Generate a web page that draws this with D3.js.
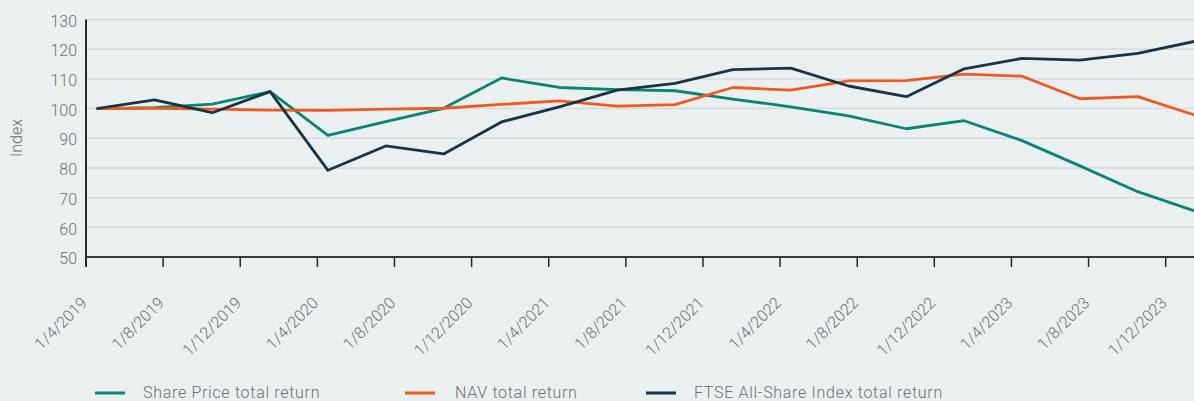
<!DOCTYPE html>
<html>
<head>
<meta charset="utf-8">
<script src="https://cdn.jsdelivr.net/npm/d3@7"></script>
<style>
  html, body { margin: 0; padding: 0; background: #eaf0f0; }
  svg { display: block; }
</style>
</head>
<body>
<div id="chart"></div>
<script>
// Quarterly observations (Apr 2019 .. Jan 2024), index rebased to 100
const quarters = ["2019-04", "2019-07", "2019-10", "2020-01", "2020-04", "2020-07", "2020-10",
  "2021-01", "2021-04", "2021-07", "2021-10", "2022-01", "2022-04", "2022-07", "2022-10",
  "2023-01", "2023-04", "2023-07", "2023-10", "2024-01"];
const sharePrice = [100, 100.3, 101.5, 105.7, 91.0, 95.6, 100.1, 110.3, 107.1, 106.4, 106.0,
  103.2, 100.6, 97.5, 93.2, 95.9, 89.2, 80.7, 72.0, 65.4];
const navReturn = [100, 100.1, 99.8, 99.5, 99.4, 99.8, 100.1, 101.4, 102.6, 100.8, 101.3,
  107.1, 106.2, 109.3, 109.4, 111.6, 110.9, 103.3, 104.0, 97.7];
const ftseReturn = [100, 102.9, 98.6, 105.7, 79.2, 87.4, 84.7, 95.5, 100.6, 106.2, 108.5,
  113.1, 113.6, 107.6, 104.0, 113.4, 116.9, 116.3, 118.6, 122.7];
const tickLabels = ["1/4/2019", "1/8/2019", "1/12/2019", "1/4/2020", "1/8/2020", "1/12/2020",
  "1/4/2021", "1/8/2021", "1/12/2021", "1/4/2022", "1/8/2022", "1/12/2022", "1/4/2023",
  "1/8/2023", "1/12/2023"];
const yTicks = [50, 60, 70, 80, 90, 100, 110, 120, 130];

const seriesNames = ["Share Price total return", "NAV total return", "FTSE All-Share Index total return"];
const seriesColors = ["#0a8574", "#f05a1e", "#1a3447"];

const width = 1194, height = 401;
const font = "Roboto, 'Liberation Sans', Arial, sans-serif";
const textColor = "#6f7072";

const svg = d3.select("#chart").append("svg")
  .attr("width", width)
  .attr("height", height)
  .style("background", "#eaf0f0");

// months since April 2019 -> pixels (date axis, major unit 4 months)
const monthW = 19.28;
const x = d3.scaleLinear().domain([0, 60]).range([86, 86 + 60 * monthW]);
const y = d3.scaleLinear().domain([50, 130]).range([257, 19.5]);

const monthIndex = s => {
  const [yy, mm] = s.split("-").map(Number);
  return (yy - 2019) * 12 + (mm - 4);
};
// each point sits inside its month slot
const px = s => x(monthIndex(s) + 0.55);

// gridlines
svg.append("g")
  .selectAll("line")
  .data(yTicks.filter(d => d > 50))
  .join("line")
  .attr("x1", x(0))
  .attr("x2", width)
  .attr("y1", d => y(d))
  .attr("y2", d => y(d))
  .attr("stroke", "#d6dadc")
  .attr("stroke-width", 1.5);

// y tick labels
svg.append("g")
  .selectAll("text")
  .data(yTicks)
  .join("text")
  .attr("x", 77)
  .attr("y", d => y(d))
  .attr("dy", "0.45em")
  .attr("text-anchor", "end")
  .attr("font-family", font)
  .attr("font-weight", 300)
  .attr("font-size", "16px")
  .attr("fill", textColor)
  .text(d => d);

// y axis title
svg.append("text")
  .attr("transform", "translate(22,138) rotate(-90)")
  .attr("text-anchor", "middle")
  .attr("font-family", font)
  .attr("font-weight", 300)
  .attr("font-size", "16px")
  .attr("fill", textColor)
  .text("Index");

// lines
const line = d3.line()
  .x((d, i) => px(quarters[i]))
  .y(d => y(d));

[sharePrice, navReturn, ftseReturn].forEach((vals, i) => {
  svg.append("path")
    .datum(vals)
    .attr("d", line)
    .attr("fill", "none")
    .attr("stroke", seriesColors[i])
    .attr("stroke-width", 2.8)
    .attr("stroke-linejoin", "round");
});

// axes lines
svg.append("line")
  .attr("x1", x(0)).attr("x2", x(0))
  .attr("y1", y(130)).attr("y2", y(50) + 10)
  .attr("stroke", "#2a2a2a").attr("stroke-width", 2);
svg.append("line")
  .attr("x1", x(0)).attr("x2", width)
  .attr("y1", y(50)).attr("y2", y(50))
  .attr("stroke", "#3a3a3a").attr("stroke-width", 2);

// x ticks & labels
const xt = svg.append("g");
tickLabels.forEach((lab, i) => {
  const tx = x(i * 4);
  xt.append("line")
    .attr("x1", tx).attr("x2", tx)
    .attr("y1", y(50)).attr("y2", y(50) + 10)
    .attr("stroke", "#2a2a2a").attr("stroke-width", 1.5);
  xt.append("text")
    .attr("transform", `translate(${tx + 2},${304}) rotate(-45)`)
    .attr("text-anchor", "end")
    .attr("font-family", font)
    .attr("font-weight", 300)
    .attr("font-size", "16px")
    .attr("fill", textColor)
    .text(lab);
});

// legend
const legendX = [95, 405, 646];
const legend = svg.append("g");
seriesNames.forEach((name, i) => {
  legend.append("line")
    .attr("x1", legendX[i]).attr("x2", legendX[i] + 30)
    .attr("y1", 393).attr("y2", 393)
    .attr("stroke", seriesColors[i])
    .attr("stroke-width", 3);
  legend.append("text")
    .attr("x", legendX[i] + (i === 1 ? 50 : 48))
    .attr("y", 398)
    .attr("font-family", font)
    .attr("font-weight", 300)
    .attr("font-size", "16px")
    .attr("letter-spacing", "0.7px")
    .attr("fill", textColor)
    .text(name);
});
</script>
</body>
</html>
